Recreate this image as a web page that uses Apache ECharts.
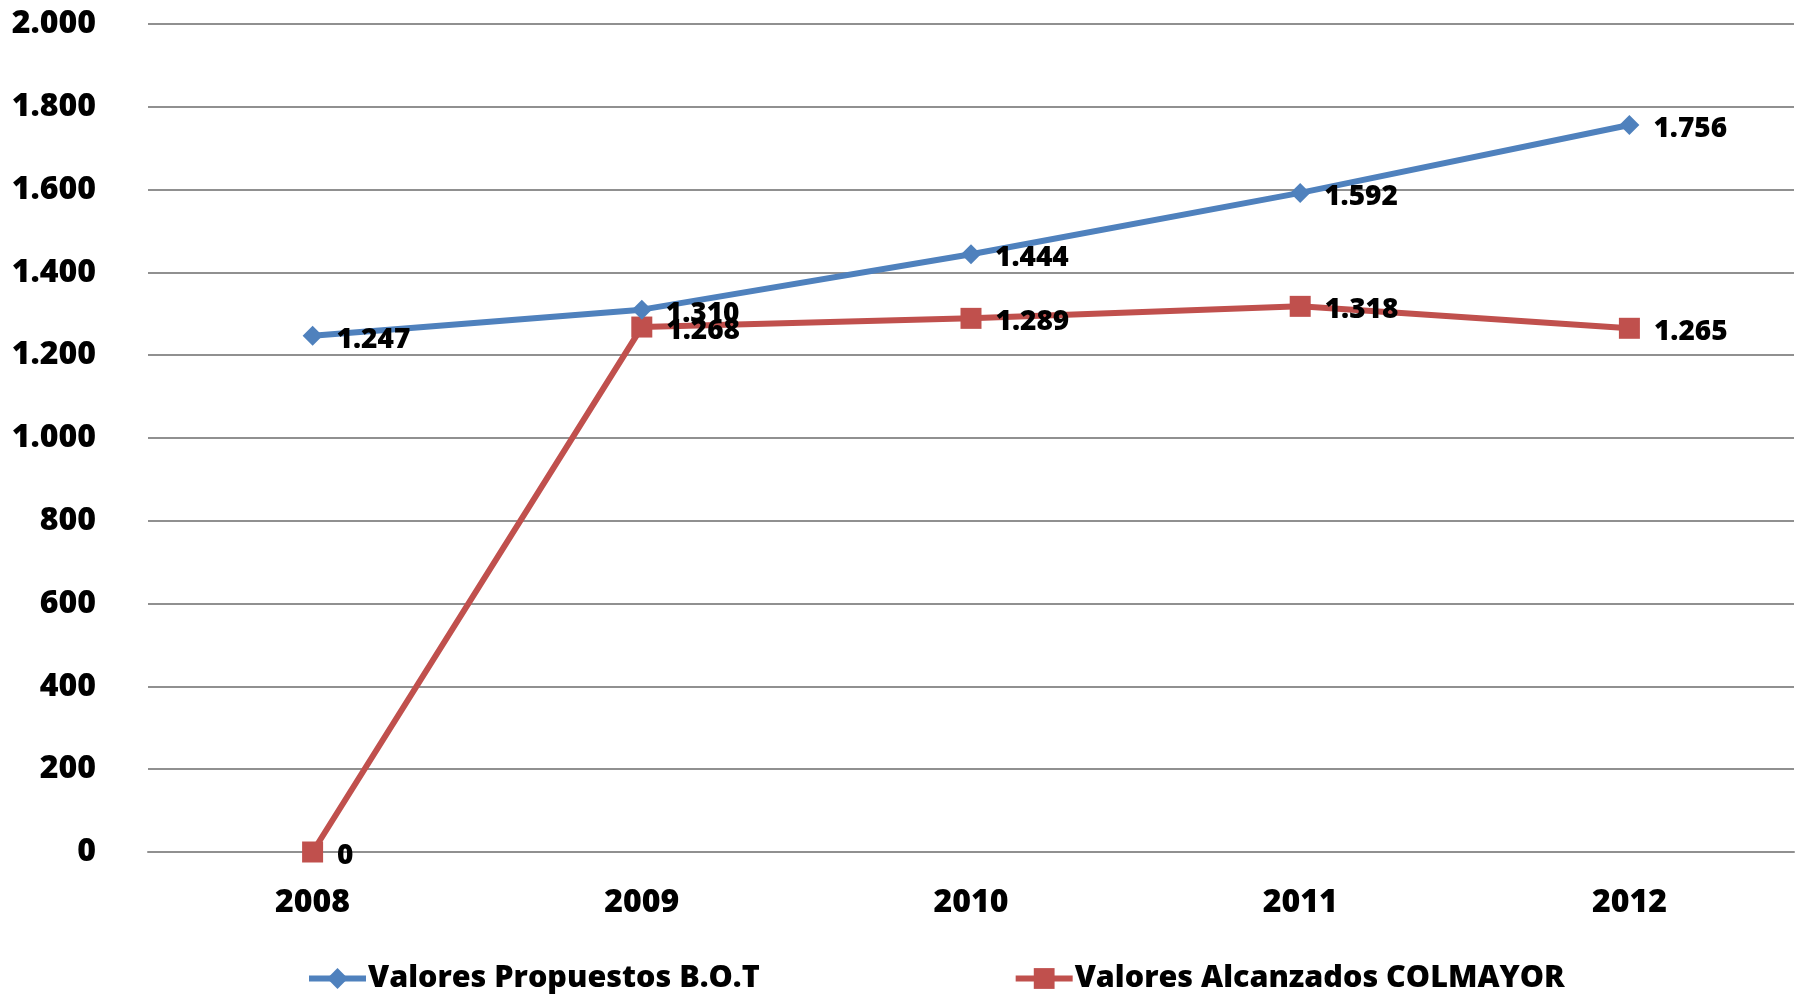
<!DOCTYPE html>
<html>
<head>
<meta charset="utf-8">
<script src="https://cdn.jsdelivr.net/npm/echarts@6/dist/echarts.min.js"></script>
<style>html,body{margin:0;padding:0;background:#fff}#c{width:1802px;height:995px}</style>
</head>
<body>
<div id="c"></div>
<script>
const categories = ['2008', '2009', '2010', '2011', '2012'];
const propuestos = [1247, 1310, 1444, 1592, 1756];
const alcanzados = [0, 1268, 1289, 1318, 1265];
const seriesNames = ['Valores Propuestos B.O.T', 'Valores Alcanzados COLMAYOR'];

const FONT = '"Open Sans", "Noto Sans", sans-serif';
const W = 800;
const fmt = v => {
  const s = String(Math.round(v));
  return s.replace(/\B(?=(\d{3})+(?!\d))/g, '.');
};

const chart = echarts.init(document.getElementById('c'));
const labelCfg = {
  show: true,
  position: 'right',
  distance: 14,
  offset: [0, 4],
  color: '#000',
  fontFamily: FONT,
  fontWeight: W,
  fontSize: 28,
  formatter: p => fmt(p.value)
};
chart.setOption({
  animation: false,
  grid: { left: 148, right: 8, top: 24, bottom: 143 },
  legend: {
    left: 301,
    top: 958,
    itemWidth: 57,
    itemHeight: 26,
    itemGap: 253,
    lineStyle: { width: 6 },
    textStyle: { color: '#000', fontFamily: FONT, fontWeight: W, fontSize: 30.5, padding: [0, 0, 0, -3] },
    data: seriesNames
  },
  xAxis: {
    type: 'category',
    data: categories,
    boundaryGap: true,
    axisLine: { show: true, lineStyle: { color: '#909090', width: 2 } },
    axisTick: { show: false },
    axisLabel: { color: '#000', fontFamily: FONT, fontWeight: W, fontSize: 32, margin: 35 }
  },
  yAxis: {
    type: 'value',
    min: 0,
    max: 2000,
    interval: 200,
    axisLine: { show: false },
    axisTick: { show: false },
    splitLine: { lineStyle: { color: '#909090', width: 2 } },
    axisLabel: { color: '#000', fontFamily: FONT, fontWeight: W, fontSize: 32, margin: 52, formatter: fmt }
  },
  series: [
    {
      name: seriesNames[0],
      type: 'line',
      data: propuestos,
      symbol: 'diamond',
      symbolSize: 20,
      lineStyle: { color: '#4F81BD', width: 6 },
      itemStyle: { color: '#4F81BD' },
      label: labelCfg,
      z: 3
    },
    {
      name: seriesNames[1],
      type: 'line',
      data: alcanzados,
      symbol: 'rect',
      symbolSize: 21,
      lineStyle: { color: '#C0504D', width: 6 },
      itemStyle: { color: '#C0504D' },
      label: labelCfg,
      z: 2
    }
  ]
});
</script>
</body>
</html>
